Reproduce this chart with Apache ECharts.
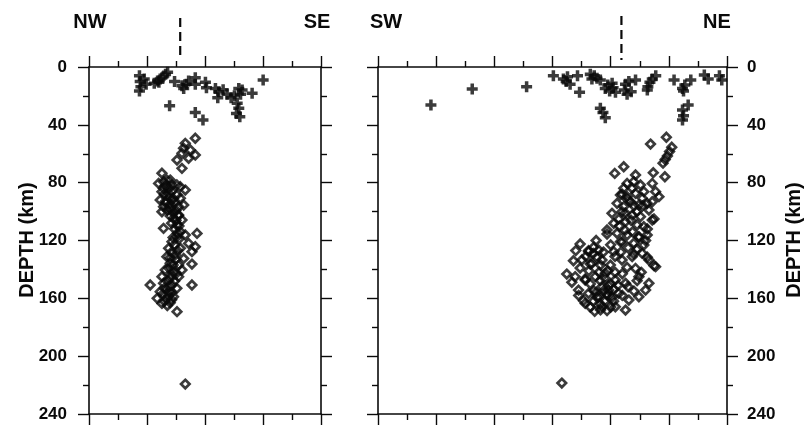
<!DOCTYPE html>
<html>
<head>
<meta charset="utf-8">
<script src="https://cdn.jsdelivr.net/npm/echarts@6/dist/echarts.min.js"></script>
<style>
html,body{margin:0;padding:0;background:#ffffff;}
#chart{width:804px;height:427px;}
</style>
</head>
<body>
<div id="chart"></div>
<script>
// ---- data (distance along profile km, depth km) ----
const depthTicks = [0, 40, 80, 120, 160, 200, 240];
const leftProfileKm = 160;
const rightProfileKm = 240;
const leftSideLabels = ['NW', 'SE'];
const rightSideLabels = ['SW', 'NE'];
const axisTitle = 'DEPTH (km)';
const dashLineKm = [62.9, 167.4];

const leftCrosses = [
  [34.8,6.0],[38.1,8.3],[35.3,10.1],[39.4,12.0],[35.8,13.6],[34.8,16.6],
  [45.0,11.3],[47.3,9.7],[49.1,8.3],[51.0,6.9],[52.8,5.1],[54.2,3.7],[48.2,10.6],
  [59.0,10.1],[65.3,14.8],[67.1,12.0],[68.7,9.7],[64.1,12.9],
  [73.3,7.4],[73.3,12.0],[80.3,10.6],[81.0,14.3],
  [87.2,14.8],[89.5,17.1],[92.5,15.7],[95.2,18.9],[88.8,21.2],[98.0,21.2],[100.3,19.8],
  [103.3,14.8],[105.6,15.9],[104.5,18.9],[112.5,18.2],[120.1,9.0],
  [102.2,25.1],[103.3,28.6],[101.7,32.1],[104.0,34.4],
  [55.6,26.8],[73.3,31.4],[78.6,36.7]
];

const leftDiamonds = [
  [73.3,49.3],[66.4,52.8],[65.2,56.2],[69.9,57.4],[73.3,60.9],[64.1,59.7],[68.7,63.1],[60.7,64.3],[64.1,70.1],
  [50.3,73.5],[53.7,78.2],[57.2,81.6],[62.9,82.8],[51.3,83.9],
  [48.0,80.5],[51.4,79.3],[56.0,78.2],[60.6,81.6],[66.4,85.1],[50.3,86.2],[54.9,87.4],[60.6,88.5],
  [49.1,92.0],[52.6,93.1],[57.2,92.0],[63.0,90.8],[51.4,96.6],[56.0,97.8],[61.8,96.6],[65.3,95.5],
  [50.3,100.1],[58.3,101.2],[61.6,102.8],[58.3,104.7],[61.8,102.4],[64.1,105.8],[51.4,111.6],[60.6,109.3],
  [63.0,113.9],[66.4,116.2],[60.6,117.4],[57.2,120.8],[74.5,115.1],[68.7,122.0],[73.3,124.3],
  [54.9,125.4],[63.0,125.4],[71.0,127.7],[53.7,131.2],[59.5,130.0],[65.3,132.4],[71.0,136.3],
  [56.0,135.8],[61.8,137.0],[52.6,140.4],[58.3,141.6],[64.1,140.4],[50.3,145.0],[56.0,146.2],[61.8,145.0],
  [51.4,149.6],[57.2,150.8],[42.2,150.8],[71.0,150.8],[49.1,155.4],[54.9,155.4],[60.6,153.1],
  [47.0,160.0],[53.7,160.0],[58.3,158.9],[50.3,163.5],[56.0,163.0],[60.7,169.2],
  [53,82],[55,84],[57,86],[52,88],[55,90],[58,91],[53,94],[56,95],[59,94],[54,99],[57,99],[60,99],
  [56,103],[60,106],[57,108],[62,110],[59,112],[61,115],[58,118],[62,119],[59,123],[61,127],[57,128],
  [60,133],[56,132],[58,137],[55,139],[60,143],[57,144],[54,148],[59,148],[55,152],[52,153],[57,156],
  [51,157],[55,158],[52,162],[54,165],[57,161],
  [66.4,219.3]
];

const rightCrosses = [
  [36.4,26.3],[64.8,15.2],[102.2,13.6],[120.6,6.0],
  [130.3,6.7],[129.4,10.1],[132.1,12.0],[127.5,8.3],[137.2,6.0],[138.6,17.5],
  [146.0,5.1],[148.7,6.0],[150.6,7.8],[147.1,8.3],[152.9,9.0],
  [152.9,28.6],[154.7,31.4],[156.3,35.1],
  [156.3,14.8],[159.3,16.6],[161.7,14.3],[163.3,17.5],[158.0,12.5],[161.0,11.3],
  [170.2,12.0],[172.5,10.1],[177.1,9.0],[169.5,15.9],[171.3,18.9],[174.1,17.1],
  [191.0,6.0],[188.6,8.3],[187.0,10.6],[185.6,13.6],[185.2,15.9],
  [203.6,9.0],[209.4,14.8],[211.0,12.5],[215.1,9.0],[210.1,16.6],
  [213.3,26.3],[209.4,29.7],[210.1,33.7],[209.4,36.7],
  [224.4,5.5],[227.1,8.3],[234.8,6.0],[236.4,9.0]
];

const rightDiamonds = [
  [198.3,48.6],[187.4,53.3],[202.0,55.5],[200.5,58.5],[199.0,61.5],[197.5,64.0],[196.0,66.5],
  [169.0,69.0],[189.3,73.1],[197.3,75.9],[162.8,73.6],[177.1,74.7],
  [171.3,80.5],[175.9,79.3],[180.5,81.6],[174.8,83.9],[169.0,83.9],[188.6,80.5],[190.9,86.2],[182.8,86.2],
  [166.7,88.5],[171.3,89.7],[177.1,87.4],[181.7,90.8],[173.6,93.2],[179.4,95.5],[185.1,94.3],[169.0,96.6],
  [164.4,94.3],[188.6,93.2],[193.2,89.7],[160.9,101.2],[167.8,100.1],[174.8,102.4],[180.5,103.5],[186.3,98.9],
  [188.6,105.8],[162.1,108.1],[170.2,107.0],[178.2,109.3],[182.8,110.4],[165.6,105.1],[189.8,105.1],
  [185.2,112.0],[179.4,117.8],[157.5,115.5],[157.5,112.7],[164.4,115.0],[171.3,116.2],[179.4,117.4],[185.1,116.2],
  [166.7,120.8],[175.9,121.9],[182.8,123.1],[162.1,127.7],[148.3,124.7],[139.0,122.4],
  [144.8,127.7],[151.7,126.6],[140.2,133.5],[147.1,135.8],[154.0,133.5],[159.8,137.0],[167.8,133.5],
  [174.8,131.2],[181.7,128.9],[186.3,133.5],[190.9,138.1],[177.1,139.3],[185.2,131.6],[175.9,129.3],
  [171.3,138.6],[189.8,137.4],[134.4,134.0],[129.8,143.2],[133.3,148.9],[144.8,127.0],[150.6,131.6],[146.0,136.3],
  [135.6,145.0],[142.5,147.3],[149.4,145.0],[156.3,142.7],[163.2,147.3],[170.2,149.6],[179.4,145.0],[186.3,149.6],
  [178.2,147.8],[142.5,146.6],[152.9,147.8],[158.6,151.2],[155.2,154.7],[162.1,153.6],[148.3,154.7],
  [137.9,154.3],[144.8,156.6],[151.7,158.9],[158.6,154.3],[165.5,156.6],[172.5,161.2],[179.4,158.9],[184.0,154.3],
  [141.3,161.6],[157.5,157.0],[150.6,159.3],[160.9,159.3],[152.9,163.9],
  [142.5,163.5],[154.0,165.8],[163.2,165.8],[170.2,168.1],[157.5,168.5],
  [152,142],[156,146],[160,150],[154,152],[158,158],[162,162],[150,156],[148,162],[156,162],[160,166],
  [153,168],[165,151],[168,158],[146,150],[145,141],[139,139],[143,131],[148,129],[153,137],[158,141],
  [163,142],[168,143],[172,152],[176,155],[168,88],[172,92],[176,96],[170,101],[174,106],[178,100],
  [182,96],[166,110],[170,113],[175,114],[168,121],[172,125],[178,126],[160,123],[163,131],[155,128],
  [150,120],[184,120],[181,142],[167,128],[136,127],[138,158],[146,166],[149,169],
  [126.4,218.6]
];

// ---- styling ----
const INK = '#0a0a0a';
const FONT = '"Liberation Sans", Arial, Helvetica, sans-serif';
const crossSymbol = 'path://M3.4,0H6.6V3.4H10V6.6H6.6V10H3.4V6.6H0V3.4H3.4Z';

function xAxisDef(gridIndex, position, max) {
  return {
    type: 'value', gridIndex, position, min: 0, max, interval: 40,
    axisLine: { show: true, onZero: false, lineStyle: { color: INK, width: 1.6 } },
    axisTick: { show: true, inside: false, length: 11, lineStyle: { color: INK, width: 1.4 } },
    minorTick: { show: true, splitNumber: 2, length: 6, lineStyle: { color: INK, width: 1.4 } },
    axisLabel: { show: false },
    splitLine: { show: false }, minorSplitLine: { show: false }
  };
}
function yAxisDef(gridIndex, position, showLabel) {
  return {
    type: 'value', gridIndex, position, inverse: true,
    min: depthTicks[0], max: depthTicks[depthTicks.length - 1], interval: 40,
    axisLine: { show: true, onZero: false, lineStyle: { color: INK, width: 1.6 } },
    axisTick: { show: true, inside: false, length: 11, lineStyle: { color: INK, width: 1.4 } },
    minorTick: { show: true, splitNumber: 2, length: 6, lineStyle: { color: INK, width: 1.4 } },
    axisLabel: { show: showLabel, margin: position === 'left' ? 22 : 20, color: INK, fontSize: 17, fontFamily: FONT,
                 fontWeight: 'bold', showMinLabel: true, showMaxLabel: true },
    splitLine: { show: false }, minorSplitLine: { show: false }
  };
}

const chart = echarts.init(document.getElementById('chart'), null, { renderer: 'canvas' });

const diamondStyle = { color: 'rgba(255,255,255,0)', borderColor: INK, borderWidth: 2.7 };
const option = {
  backgroundColor: '#ffffff',
  animation: false,
  grid: [
    { left: 89, top: 67, width: 232, height: 347 },
    { left: 378, top: 67, width: 349, height: 347 }
  ],
  xAxis: [
    xAxisDef(0, 'bottom', leftProfileKm),
    xAxisDef(0, 'top', leftProfileKm),
    xAxisDef(1, 'bottom', rightProfileKm),
    xAxisDef(1, 'top', rightProfileKm)
  ],
  yAxis: [
    yAxisDef(0, 'left', true),
    yAxisDef(0, 'right', false),
    yAxisDef(1, 'left', false),
    yAxisDef(1, 'right', true)
  ],
  series: [
    { type: 'scatter', xAxisIndex: 0, yAxisIndex: 0, data: leftCrosses, symbol: crossSymbol, symbolSize: 11,
      itemStyle: { color: INK }, silent: true, clip: false },
    { type: 'scatter', xAxisIndex: 0, yAxisIndex: 0, data: leftDiamonds, symbol: 'diamond', symbolSize: 8.5,
      itemStyle: diamondStyle, silent: true, clip: false },
    { type: 'scatter', xAxisIndex: 2, yAxisIndex: 2, data: rightCrosses, symbol: crossSymbol, symbolSize: 11,
      itemStyle: { color: INK }, silent: true, clip: false },
    { type: 'scatter', xAxisIndex: 2, yAxisIndex: 2, data: rightDiamonds, symbol: 'diamond', symbolSize: 8.5,
      itemStyle: diamondStyle, silent: true, clip: false }
  ]
};
chart.setOption(option);

// annotations placed via the axes' own scales
const xL = chart.convertToPixel({ xAxisIndex: 0 }, dashLineKm[0]);
const xR = chart.convertToPixel({ xAxisIndex: 2 }, dashLineKm[1]);
const lblStyle = { fill: INK, fontSize: 20, fontWeight: 'bold', fontFamily: FONT, textAlign: 'center', textVerticalAlign: 'middle' };
chart.setOption({
  graphic: [
    { type: 'line', shape: { x1: xL, y1: 18, x2: xL, y2: 58 }, style: { stroke: INK, lineWidth: 2.2, lineDash: [9, 5] }, silent: true },
    { type: 'line', shape: { x1: xR, y1: 16, x2: xR, y2: 60 }, style: { stroke: INK, lineWidth: 2.2, lineDash: [9, 5] }, silent: true },
    { type: 'text', x: 90, y: 22, style: Object.assign({ text: leftSideLabels[0] }, lblStyle) },
    { type: 'text', x: 317, y: 22, style: Object.assign({ text: leftSideLabels[1] }, lblStyle) },
    { type: 'text', x: 386, y: 22, style: Object.assign({ text: rightSideLabels[0] }, lblStyle) },
    { type: 'text', x: 717, y: 22, style: Object.assign({ text: rightSideLabels[1] }, lblStyle) },
    { type: 'text', x: 27, y: 240, rotation: Math.PI / 2, style: Object.assign({ text: axisTitle }, lblStyle) },
    { type: 'text', x: 794, y: 240, rotation: Math.PI / 2, style: Object.assign({ text: axisTitle }, lblStyle) }
  ]
});
</script>
</body>
</html>
